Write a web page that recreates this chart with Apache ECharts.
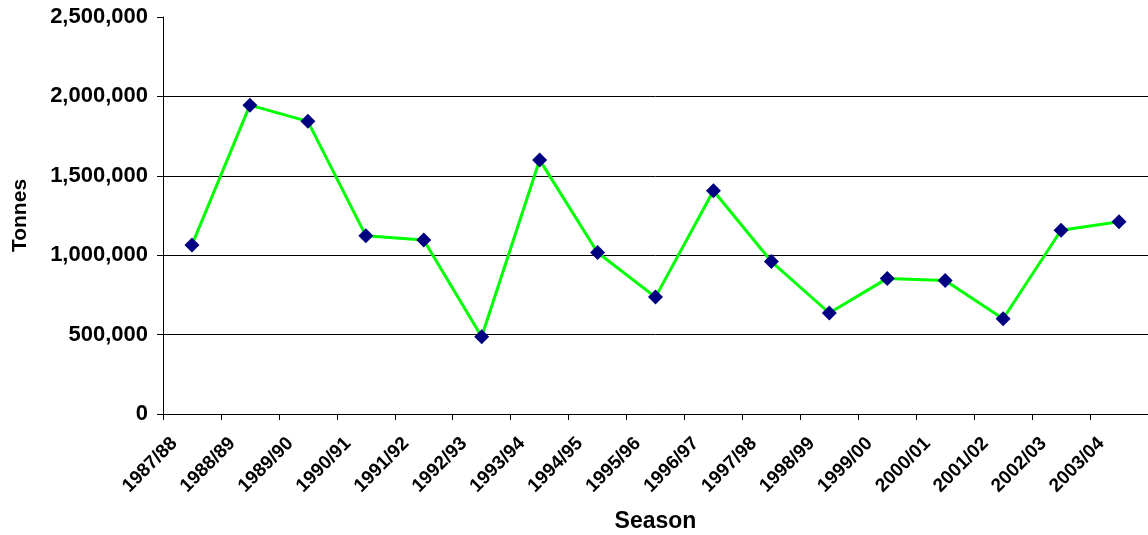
<!DOCTYPE html>
<html>
<head>
<meta charset="utf-8">
<script src="https://cdn.jsdelivr.net/npm/echarts@6/dist/echarts.min.js"></script>
<style>
html,body{margin:0;padding:0;background:#fff;}
#chart{width:1148px;height:535px;}
</style>
</head>
<body>
<div id="chart"></div>
<script>
const seasons = ["1987/88","1988/89","1989/90","1990/91","1991/92","1992/93","1993/94","1994/95","1995/96","1996/97","1997/98","1998/99","1999/00","2000/01","2001/02","2002/03","2003/04"];
const tonnes = [1065000,1945000,1843000,1123000,1096000,487000,1600000,1017000,736000,1406000,960000,636000,854000,841000,600000,1157000,1211000];
const yTicks = {min:0, max:2500000, interval:500000};

const chart = echarts.init(document.getElementById('chart'));
const FONT = '"Liberation Sans", Arial, sans-serif';
chart.setOption({
  animation:false,
  backgroundColor:'#fff',
  grid:{left:163, right:0, top:17, bottom:121, containLabel:false, outerBoundsMode:'none'},
  xAxis:{
    type:'category',
    data:seasons,
    boundaryGap:true,
    name:'Season',
    nameLocation:'middle',
    nameGap:96,
    nameTextStyle:{fontFamily:FONT, fontWeight:'bold', fontSize:23, color:'#000'},
    axisLine:{lineStyle:{color:'#000', width:1}},
    axisTick:{show:true, alignWithLabel:false, length:6, lineStyle:{color:'#000'}},
    axisLabel:{rotate:45, interval:0, margin:9,
      fontFamily:FONT, fontWeight:'bold', fontSize:19, color:'#000',
      formatter:v=>'{a|'+v+'}{s| }',
      rich:{a:{fontFamily:FONT, fontWeight:'bold', fontSize:19, color:'#000'}, s:{width:25, fontSize:19}}},
    splitLine:{show:false}
  },
  yAxis:{
    type:'value',
    min:yTicks.min, max:yTicks.max, interval:yTicks.interval,
    name:'Tonnes',
    nameLocation:'middle',
    nameGap:132,
    nameRotate:90,
    nameTextStyle:{fontFamily:FONT, fontWeight:'bold', fontSize:21, color:'#000'},
    axisLine:{show:true, lineStyle:{color:'#000', width:1}},
    axisTick:{show:true, length:6, lineStyle:{color:'#000'}},
    axisLabel:{margin:15, fontFamily:FONT, fontWeight:'bold', fontSize:22, color:'#000',
      formatter:v=>v.toLocaleString('en-US')},
    splitLine:{show:true, showMaxLine:false, lineStyle:{color:'#000', width:1}}
  },
  series:[{
    type:'line',
    data:tonnes,
    lineStyle:{color:'#00FF00', width:3},
    itemStyle:{color:'#000080'},
    symbol:'diamond',
    symbolSize:15,
    showAllSymbol:true
  }]
});
</script>
</body>
</html>
